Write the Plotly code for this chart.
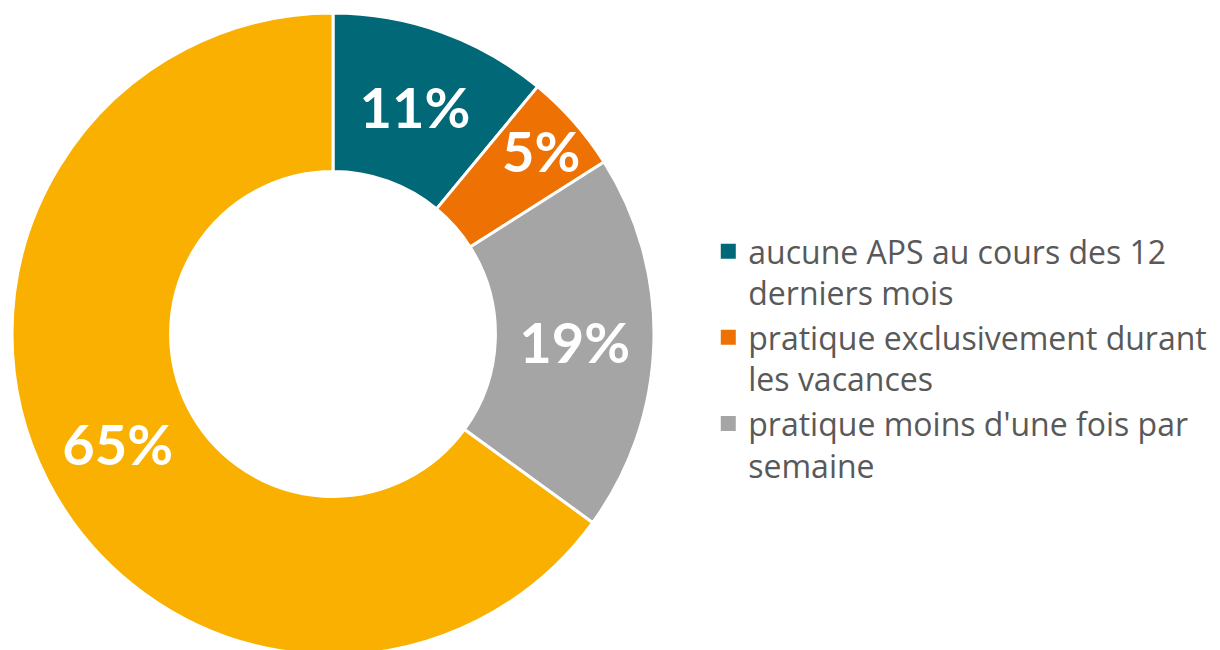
import plotly.graph_objects as go

labels = ["aucune APS au cours des 12<br>derniers mois",
          "pratique exclusivement durant<br>les vacances",
          "pratique moins d'une fois par<br>semaine",
          "pratique au moins une fois par semaine"]
values = [11, 5, 19, 65]
colors = ["#006877", "#EE7203", "#A5A5A5", "#F9B000"]
legend_count = 3

W, H = 1220, 650
cx, cy, r = 325, 326, 321

fig = go.Figure()
fig.add_trace(go.Pie(
    labels=labels, values=values, sort=False, direction="clockwise", rotation=0,
    hole=0.506,
    marker=dict(colors=colors, line=dict(color="white", width=3)),
    texttemplate="%{value}%", textposition="inside", insidetextorientation="horizontal",
    textfont=dict(family="Lato", size=56, color="white", weight="bold"),
    showlegend=False, hoverinfo="label+percent",
    domain=dict(x=[(cx - r) / W, (cx + r) / W], y=[(H - cy - r) / H, (H - cy + r) / H]),
))
for i in range(legend_count):
    fig.add_trace(go.Scatter(
        x=[None], y=[None], mode="markers", name=labels[i],
        marker=dict(symbol="square", size=15, color=colors[i]),
    ))

fig.update_layout(
    width=W, height=H, margin=dict(l=0, r=0, t=0, b=0),
    paper_bgcolor="white", plot_bgcolor="white",
    xaxis=dict(visible=False), yaxis=dict(visible=False),
    uniformtext=dict(minsize=56, mode="show"),
    legend=dict(x=0.574, y=0.461, xanchor="left", yanchor="middle",
                font=dict(family="Open Sans", size=32, color="#595959"),
                valign="top", tracegroupgap=0, itemwidth=30),
)
fig.write_html("out.html")
